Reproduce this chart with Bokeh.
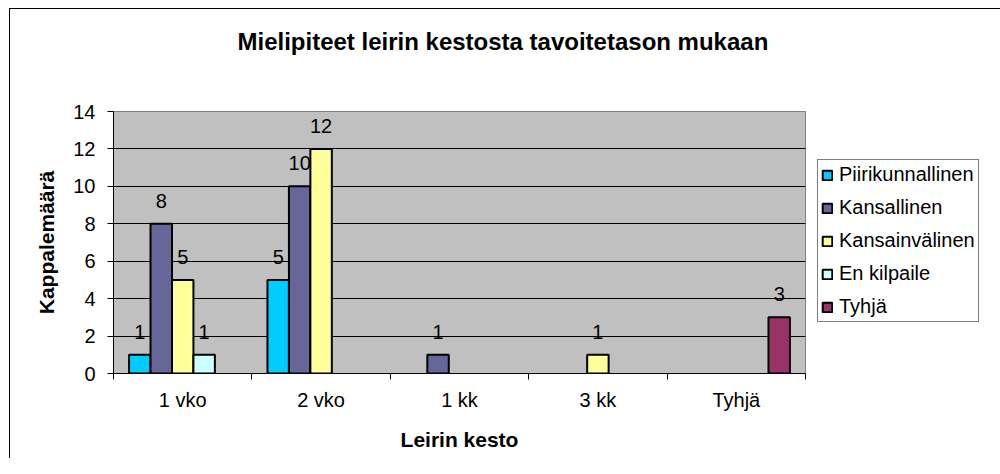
import numpy as np
from bokeh.plotting import figure
from bokeh.models import (ColumnDataSource, Range1d, FixedTicker, LabelSet,
                          Legend, LegendItem, Title)
from bokeh.core.properties import value
from bokeh.embed import file_html
from bokeh.resources import INLINE

# ---------------- data ----------------
title_text = "Mielipiteet leirin kestosta tavoitetason mukaan"
x_title = "Leirin kesto"
y_title = "Kappalemäärä"
categories = ["1 vko", "2 vko", "1 kk", "3 kk", "Tyhjä"]
series_names = ["Piirikunnallinen", "Kansallinen", "Kansainvälinen", "En kilpaile", "Tyhjä"]
piirikunnallinen = [1, 5, 0, 0, 0]
kansallinen = [8, 10, 1, 0, 0]
kansainvalinen = [5, 12, 0, 1, 0]
en_kilpaile = [1, 0, 0, 0, 0]
tyhja = [0, 0, 0, 0, 3]
y_ticks = [0, 2, 4, 6, 8, 10, 12, 14]
colors = ["#00CCFF", "#666699", "#FFFF99", "#CCFFFF", "#993366"]

series_values = [piirikunnallinen, kansallinen, kansainvalinen, en_kilpaile, tyhja]

FONT = "Liberation Sans"
n = len(categories)
centers = np.arange(n) + 0.5
bar_w = 0.155

p = figure(frame_width=692, frame_height=262,
           min_border_left=113, min_border_right=179,
           min_border_top=111, min_border_bottom=85,
           x_range=Range1d(0, n), y_range=Range1d(0, 14),
           output_backend="svg", toolbar_location=None)

p.background_fill_color = "#C0C0C0"
p.border_fill_color = "white"
p.border_fill_alpha = 0
p.outline_line_color = "#808080"
p.outline_line_width = 1
p.styles = {
    "background-color": "white",
    "background-image": "linear-gradient(#000, #000), linear-gradient(#000, #000)",
    "background-size": "1px 100%, 100% 1px",
    "background-position": "9px 8px, 9px 8px",
    "background-repeat": "no-repeat",
}

# title: a blank spacer next to the frame, then the real title above it
spacer = Title(text=" ", text_font_size="1px", standoff=54)
p.add_layout(spacer, "above")
title = Title(text=title_text, align="left", offset=124, standoff=0,
              text_font=FONT, text_font_size="24px", text_font_style="bold",
              text_color="black")
p.add_layout(title, "above")

# x axis
xa = p.xaxis[0]
xa.ticker = FixedTicker(ticks=list(centers), minor_ticks=list(range(n + 1)))
xa.major_label_overrides = {float(c): cat for c, cat in zip(centers, categories)}
xa.major_tick_out = 0
xa.major_tick_in = 0
xa.minor_tick_out = 6
xa.minor_tick_in = 0
xa.minor_tick_line_color = "black"
xa.axis_line_color = "black"
xa.major_label_text_font = FONT
xa.major_label_text_font_size = "20px"
xa.major_label_text_color = "black"
xa.major_label_standoff = 9
xa.axis_label = x_title
xa.axis_label_text_font = FONT
xa.axis_label_text_font_size = "21px"
xa.axis_label_text_font_style = "bold"
xa.axis_label_text_color = "black"
xa.axis_label_standoff = 14

# y axis
ya = p.yaxis[0]
ya.ticker = FixedTicker(ticks=y_ticks, minor_ticks=[])
ya.major_tick_out = 6
ya.major_tick_in = 0
ya.major_tick_line_color = "black"
ya.axis_line_color = "black"
ya.major_label_text_font = FONT
ya.major_label_text_font_size = "20px"
ya.major_label_text_color = "black"
ya.major_label_standoff = 12
ya.axis_label = y_title
ya.axis_label_text_font = FONT
ya.axis_label_text_font_size = "21px"
ya.axis_label_text_font_style = "bold"
ya.axis_label_text_color = "black"
ya.axis_label_standoff = 12

p.xgrid.visible = False
p.ygrid.ticker = FixedTicker(ticks=[t for t in y_ticks if 0 < t < 14])
p.ygrid.grid_line_color = "black"
p.ygrid.grid_line_width = 1

items = []
for i, (name, vals, col) in enumerate(zip(series_names, series_values, colors)):
    offset = (i - (len(series_names) - 1) / 2) * bar_w
    idx = [k for k, v in enumerate(vals) if v > 0]
    src = ColumnDataSource(dict(
        x=[centers[k] + offset for k in idx],
        top=[vals[k] for k in idx],
        label=[str(vals[k]) for k in idx],
    ))
    r = p.vbar(x="x", top="top", bottom=0, width=bar_w, source=src,
               fill_color=col, line_color="black", line_width=2)
    items.append(LegendItem(label=name, renderers=[r]))
    labels = LabelSet(x="x", y="top", text="label", source=src,
                      text_align="center", text_baseline="alphabetic",
                      y_offset=16, text_font=value(FONT),
                      text_font_size=value("20px"), text_color="black")
    p.add_layout(labels)

legend = Legend(items=items, location=(12, 51))
legend.label_text_font = FONT
legend.label_text_font_size = "20px"
legend.label_text_color = "black"
legend.glyph_width = 12
legend.glyph_height = 12
legend.label_standoff = 6
legend.label_height = 20
legend.spacing = 10
legend.padding = 3
legend.margin = 0
legend.border_line_color = "black"
legend.border_line_width = 1
legend.background_fill_color = "white"
legend.background_fill_alpha = 1
p.add_layout(legend, "right")

open("out.html", "w").write(file_html(p, INLINE))
